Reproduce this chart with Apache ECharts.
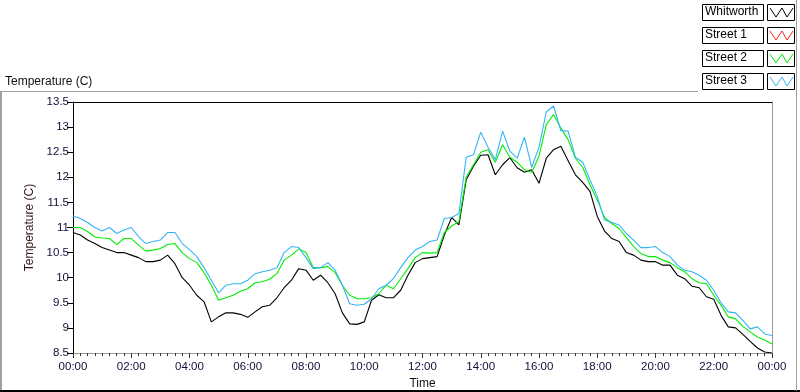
<!DOCTYPE html>
<html>
<head>
<meta charset="utf-8">
<script src="https://cdn.jsdelivr.net/npm/echarts@6/dist/echarts.min.js"></script>
<style>
html,body{margin:0;padding:0;background:#fff;}
#chart{width:800px;height:392px;}
</style>
</head>
<body>
<div id="chart"></div>
<script>
// sample times in minutes since 00:00
var minutes = [0,15,30,45,60,75,90,105,120,135,150,165,180,195,210,225,240,255,270,285,300,315,330,345,360,
  375,390,405,420,435,450,465,480,495,510,525,540,555,570,585,600,615,630,645,660,675,690,705,720,
  735,750,765,780,795,810,825,840,855,870,885,900,915,930,945,960,975,990,1005,1020,1035,1050,1065,1080,
  1095,1110,1125,1140,1155,1170,1185,1200,1215,1230,1245,1260,1275,1290,1305,1320,1335,1350,1365,1380,1395,1410,1425,1440];

var seriesNames = ["Whitworth","Street 1","Street 2","Street 3"];

var whitworth = [10.9,10.85,10.75,10.68,10.6,10.55,10.5,10.5,10.45,10.4,10.32,10.32,10.35,10.45,10.28,10.0,9.85,9.65,9.52,9.12,9.22,9.3,9.3,9.27,9.21,
  9.32,9.42,9.45,9.6,9.8,9.95,10.18,10.15,9.95,10.05,9.9,9.68,9.3,9.08,9.07,9.12,9.55,9.66,9.6,9.6,9.75,10.05,10.3,10.38,
  10.4,10.42,10.85,11.2,11.05,11.95,12.22,12.44,12.45,12.05,12.25,12.39,12.19,12.1,12.15,11.88,12.38,12.55,12.62,12.33,12.05,11.9,11.72,11.22,
  10.93,10.78,10.72,10.5,10.45,10.35,10.32,10.32,10.25,10.25,10.05,9.98,9.83,9.8,9.62,9.57,9.25,9.02,9.0,8.87,8.73,8.6,8.52,8.5];

var street1 = [];

var street2 = [11.0,11.0,10.92,10.81,10.79,10.78,10.66,10.78,10.78,10.65,10.53,10.55,10.58,10.66,10.68,10.5,10.38,10.3,10.1,9.85,9.55,9.6,9.65,9.73,9.78,
  9.9,9.92,9.97,10.08,10.35,10.45,10.57,10.5,10.2,10.2,10.22,10.1,9.85,9.65,9.58,9.58,9.6,9.68,9.85,9.78,9.98,10.18,10.4,10.5,
  10.49,10.5,10.9,11.03,11.12,12.0,12.25,12.5,12.55,12.3,12.65,12.4,12.3,12.15,12.1,12.42,13.05,13.25,12.98,12.75,12.38,12.2,11.85,11.55,
  11.2,11.08,10.98,10.8,10.62,10.48,10.42,10.42,10.35,10.3,10.2,10.12,9.98,9.9,9.88,9.65,9.45,9.22,9.18,9.03,8.92,8.82,8.76,8.68];

var street3 = [11.23,11.18,11.1,11.0,10.93,11.0,10.88,10.95,11.0,10.82,10.68,10.72,10.75,10.9,10.9,10.68,10.56,10.42,10.2,9.95,9.7,9.85,9.88,9.88,9.95,
  10.08,10.12,10.15,10.2,10.5,10.62,10.6,10.4,10.18,10.2,10.3,10.15,9.85,9.48,9.45,9.47,9.58,9.78,9.85,9.98,10.2,10.4,10.55,10.62,
  10.72,10.75,11.18,11.2,11.28,12.4,12.45,12.9,12.6,12.35,12.92,12.52,12.38,12.8,12.2,12.6,13.3,13.42,12.93,12.92,12.4,12.3,11.95,11.62,
  11.15,11.1,11.05,10.88,10.75,10.6,10.6,10.62,10.5,10.42,10.25,10.15,10.12,10.05,9.95,9.75,9.5,9.32,9.3,9.15,8.98,9.02,8.88,8.85];

var seriesColors = ["#000000","#ff2020","#00ee00","#33b5f5"];

function pairs(vals){ return vals.map(function(v,i){ return [minutes[i], v]; }); }
function fmtTime(m){ var h = Math.floor(m/60)%24; var mm = m%60; return (h<10?'0':'')+h+':'+(mm<10?'0':'')+mm; }

var FONT = 'Liberation Sans';
var chart = echarts.init(document.getElementById('chart'), null, {renderer:'canvas'});

var graphics = [
  // outer panel frame
  {type:'line', shape:{x1:0,y1:91.5,x2:698,y2:91.5}, style:{stroke:'#a0a0a0',lineWidth:1}, silent:true},
  {type:'line', shape:{x1:1,y1:91,x2:1,y2:391}, style:{stroke:'#a0a0a0',lineWidth:2}, silent:true},
  {type:'line', shape:{x1:0,y1:391,x2:800,y2:391}, style:{stroke:'#000',lineWidth:2}, silent:true},
  {type:'line', shape:{x1:796.5,y1:0,x2:796.5,y2:391}, style:{stroke:'#a0a0a0',lineWidth:1}, silent:true},
  {type:'text', left:5, top:76, style:{text:'Temperature (C)', font:'12px "'+FONT+'"', fill:'#111'}, silent:true}
];
var legendTops = [4, 27, 50, 73];
seriesNames.forEach(function(n, i){
  var t = legendTops[i];
  graphics.push({type:'rect', shape:{x:702.5,y:t+0.5,width:61,height:16}, style:{fill:'#fff',stroke:'#000',lineWidth:1}, silent:true});
  graphics.push({type:'text', left:705, top:t+2, style:{text:n, font:'12px "'+FONT+'"', fill:'#000'}, silent:true});
  graphics.push({type:'rect', shape:{x:767.5,y:t+0.5,width:27,height:16}, style:{fill:'#fff',stroke:'#000',lineWidth:1}, silent:true});
  graphics.push({type:'polyline', shape:{points:[[770,t+4],[776,t+13],[782,t+4],[787,t+13],[793,t+4]]}, style:{stroke:seriesColors[i],lineWidth:1,fill:null}, silent:true});
});

var option = {
  backgroundColor:'#ffffff',
  animation:false,
  grid:{left:73, right:28, top:102, bottom:39, containLabel:false, outerBoundsMode:'none'},
  xAxis:[{
    type:'value', min:0, max:1440, interval:120,
    name:'Time', nameLocation:'middle', nameGap:24,
    nameTextStyle:{fontFamily:FONT, fontSize:12, color:'#111'},
    axisLine:{onZero:false, lineStyle:{color:'#999', width:1}},
    axisTick:{show:true, length:5, lineStyle:{color:'#333'}},
    minorTick:{show:true, splitNumber:8, length:3, lineStyle:{color:'#333'}},
    axisLabel:{formatter:function(v){return fmtTime(v);}, fontFamily:FONT, fontSize:11.5, color:'#10103a', margin:8},
    splitLine:{show:false}
  },{
    type:'value', position:'top', min:0, max:1440,
    axisLine:{onZero:false, lineStyle:{color:'#000', width:1}}, axisTick:{show:false}, axisLabel:{show:false}, splitLine:{show:false}
  }],
  yAxis:[{
    type:'value', min:8.5, max:13.5, interval:0.5, position:'left',
    name:'Temperature (C)', nameLocation:'middle', nameGap:32, nameRotate:90,
    nameTextStyle:{fontFamily:FONT, fontSize:12, color:'#3a1414'},
    axisLine:{show:true, onZero:false, lineStyle:{color:'#000', width:1}},
    axisTick:{show:true, length:6, lineStyle:{color:'#000'}},
    axisLabel:{fontFamily:FONT, fontSize:11.5, color:'#10103a', margin:4},
    splitLine:{show:false}
  },{
    type:'value', position:'right', min:8.5, max:13.5,
    axisLine:{show:true, onZero:false, lineStyle:{color:'#999', width:1}}, axisTick:{show:false}, axisLabel:{show:false}, splitLine:{show:false}
  }],
  legend:{show:false},
  series:[whitworth, street1, street2, street3].map(function(arr, i){
    return {
      name:seriesNames[i], type:'line', data:pairs(arr), showSymbol:false, symbol:'none',
      lineStyle:{color:seriesColors[i], width:1.1}, itemStyle:{color:seriesColors[i]}, z:2+i
    };
  }),
  graphic:graphics
};
chart.setOption(option);
</script>
</body>
</html>
